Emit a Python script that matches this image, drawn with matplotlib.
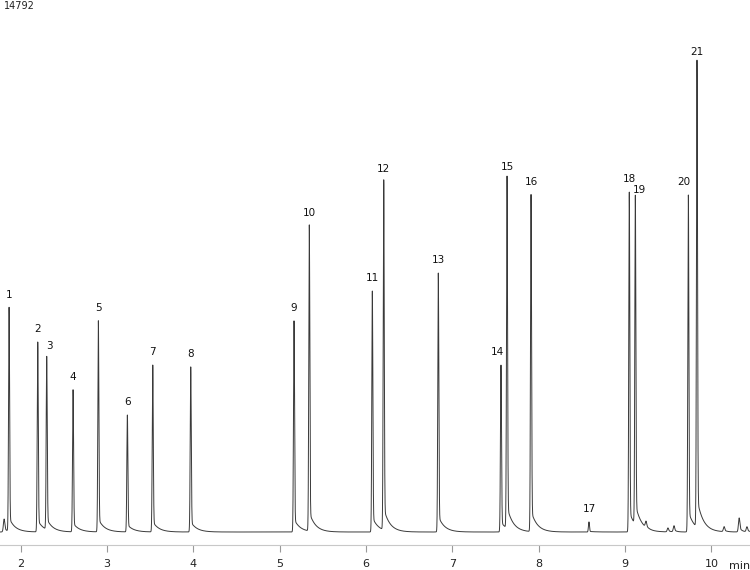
import numpy as np
import matplotlib
matplotlib.use("Agg")
import matplotlib.pyplot as plt

# chromatogram peaks: retention time (min), height (counts), label
peak_times = [1.865, 2.197, 2.301, 2.606, 2.899, 3.235, 3.529, 3.969,
              5.165, 5.342, 6.072, 6.204, 6.836, 7.562, 7.632, 7.910,
              8.581, 9.048, 9.118, 9.732, 9.832]
peak_heights = [6230, 5280, 4810, 3950, 5870, 3250, 4640, 4590,
                5870, 8510, 6700, 9730, 7200, 4640, 9790, 9370,
                280, 9450, 9150, 9370, 12980]
peak_labels = [str(i) for i in range(1, 22)]

# unlabelled minor peaks
minor_times = [1.807, 9.241, 9.495, 9.565, 10.145, 10.32, 10.41]
minor_heights = [360, 170, 110, 170, 140, 390, 140]

y_max = 14792
x_ticks = [2, 3, 4, 5, 6, 7, 8, 9, 10]

px_per_count = 532 / y_max   # baseline sits 532 px below the top


def peak_shape(t, t0, h, sigma=0.006, tail=0.06, tau=0.07):
    g = np.exp(-0.5 * ((t - t0) / sigma) ** 2)
    step = 1 / (1 + np.exp(-np.clip((t - t0) / (sigma * 0.8), -50, 50)))
    tl = np.exp(-np.clip(t - t0, 0, None) / tau) * step
    y = g * (1 - tail) + tail * tl
    return h * y / y.max()


t = np.linspace(1.76, 10.45, 60000)
signal = np.zeros_like(t)
for t0, h in zip(peak_times, peak_heights):
    signal += peak_shape(t, t0, h)
for t0, h in zip(minor_times, minor_heights):
    signal += peak_shape(t, t0, h, sigma=0.008, tail=0.3, tau=0.03)

fig = plt.figure(figsize=(7.5, 5.7), dpi=100)
ax = fig.add_axes([0, 25 / 570, 1, 545 / 570])
ax.plot(t, signal, color="#3a3a3a", lw=0.7)

ax.set_xlim(1.76, 10.446)
ax.set_ylim(-13 / px_per_count, y_max)

# peak labels, a few nudged sideways (in px) as in the original
nudge = {"3": 3, "14": -4, "19": 4, "20": -5}
for t0, h, lab in zip(peak_times, peak_heights, peak_labels):
    dx = nudge.get(lab, 0) / 86.35
    ax.text(t0 + dx, h + 13 / px_per_count, lab, ha="center", va="center",
            fontsize=7.5, color="#111111")

for s in ["top", "left", "right"]:
    ax.spines[s].set_visible(False)
ax.spines["bottom"].set_color("#c8c8c8")
ax.set_yticks([])
ax.set_xticks(x_ticks)
ax.set_xticklabels([str(v) for v in x_ticks])
ax.tick_params(axis="x", length=5, color="#999999", labelsize=8,
               labelcolor="#222222", pad=5)

ax.text(740 / 750, -21 / 545, "min", transform=ax.transAxes, ha="center",
        va="center", fontsize=8, color="#222222")
fig.text(4 / 750, 1 - 6 / 570, "14792", ha="left", va="center",
         fontsize=7, color="#222222")

fig.savefig("out.png", dpi=100)
